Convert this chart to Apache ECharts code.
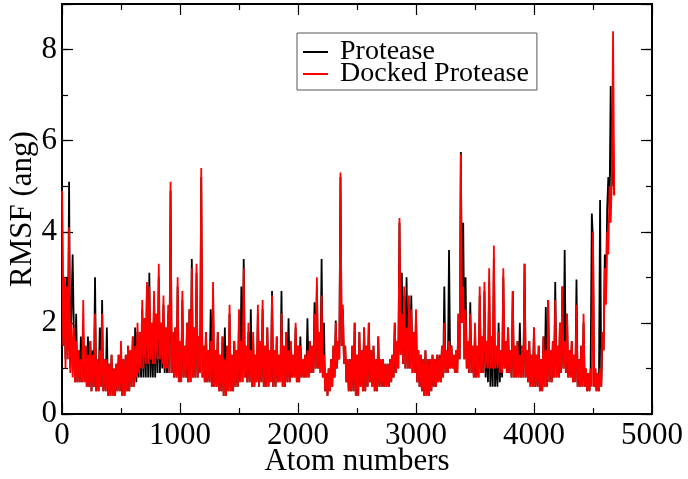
<!DOCTYPE html>
<html><head><meta charset="utf-8">
<script src="https://cdn.jsdelivr.net/npm/echarts@6/dist/echarts.min.js"></script>
<style>html,body{margin:0;padding:0;background:#fff}#c{width:688px;height:479px}</style>
</head><body><div id="c"></div>
<script>
const ATOM_STEP = 10;
const seriesNames = ['Protease', 'Docked Protease'];
const xTicks = [0, 1000, 2000, 3000, 4000, 5000];
const yTicks = [0, 2, 4, 6, 8];
// RMSF, one value every 10 atoms
const protease = [
5.3,1.5,3.0,1.2,3.0,1.4,5.1,1.0,2.2,3.5,
1.9,0.7,2.2,0.7,1.4,0.7,1.7,0.7,1.8,0.7,
1.5,0.6,1.7,0.6,1.6,0.5,1.4,0.6,3.0,0.5,
1.2,0.5,1.9,0.6,2.5,0.5,1.2,0.5,1.9,0.4,
1.1,0.4,1.3,0.4,1.0,0.4,1.1,0.5,1.3,0.5,
1.4,0.4,1.2,0.4,1.3,0.5,1.5,0.5,1.4,0.6,
1.7,0.6,1.9,0.7,1.8,0.8,1.8,0.8,2.3,0.8,
2.1,0.8,2.8,0.8,3.1,0.8,2.0,0.8,2.5,0.8,
2.2,0.9,3.0,0.9,2.0,1.0,2.4,0.9,1.9,0.9,
2.2,0.9,4.9,0.9,1.8,0.8,1.9,0.8,2.8,0.7,
1.6,0.7,2.5,0.8,1.5,0.8,2.0,0.7,2.3,0.7,
3.4,0.8,1.9,0.8,3.1,0.8,1.7,0.9,5.2,0.8,
1.5,0.7,1.8,0.7,1.4,0.7,2.3,0.6,2.7,0.6,
1.4,0.6,1.8,0.5,1.3,0.5,1.7,0.4,1.9,0.4,
1.5,0.5,2.2,0.5,1.3,0.5,1.6,0.6,1.4,0.6,
2.0,0.7,2.8,0.7,3.4,0.8,1.5,0.7,1.8,0.7,
2.3,0.6,1.6,0.6,1.3,0.7,2.2,0.6,1.6,0.7,
2.3,0.6,1.5,0.6,1.9,0.6,1.4,0.7,2.7,0.6,
1.4,0.6,1.7,0.7,1.3,0.7,2.7,0.6,1.5,0.6,
1.8,0.7,2.1,0.7,1.5,0.8,1.3,0.8,1.9,0.7,
1.5,0.7,1.7,0.8,1.2,0.8,1.3,0.8,2.1,0.8,
1.6,0.9,1.5,0.9,2.45,1.0,2.8,1.0,1.8,0.9,
3.4,0.8,2.0,0.5,0.9,0.4,1.0,0.5,1.2,0.6,
1.5,0.8,2.05,1.0,1.6,1.2,5.2,1.5,2.3,1.1,
1.5,0.7,1.2,0.5,1.2,0.5,1.5,0.5,2.0,0.4,
1.3,0.4,1.8,0.6,1.4,0.5,1.9,0.5,1.5,0.6,
2.0,0.7,1.4,0.6,1.5,0.5,1.2,0.5,1.7,0.6,
1.2,0.6,1.2,0.6,1.1,0.6,1.1,0.6,1.2,0.7,
1.3,0.8,2.0,0.9,1.6,1.0,4.2,1.3,3.1,1.1,
2.6,1.0,3.0,1.0,2.4,1.0,2.6,0.9,1.8,0.9,
2.2,0.7,1.4,0.6,1.3,0.5,1.2,0.4,1.4,0.4,
1.2,0.4,1.2,0.5,1.3,0.6,1.2,0.6,1.3,0.7,
1.3,0.7,1.5,0.8,2.8,0.9,1.4,0.9,3.6,1.0,
1.5,1.0,1.3,0.9,1.4,0.9,2.2,1.2,5.75,2.0,
4.2,1.2,3.0,1.0,1.6,0.9,2.45,0.9,1.5,0.8,
1.8,0.8,1.5,0.8,2.6,0.9,1.7,0.9,2.7,0.8,
1.6,0.7,2.9,0.6,1.7,0.6,3.4,0.6,1.4,0.6,
2.0,0.7,1.4,0.8,3.0,1.0,1.6,0.9,1.9,0.9,
1.4,0.8,2.7,0.8,1.5,0.8,1.6,0.8,2.0,0.8,
1.5,0.8,3.3,0.8,1.4,0.7,1.6,0.6,1.3,0.6,
1.9,0.6,1.3,0.6,1.5,0.5,1.2,0.5,1.7,0.6,
2.35,0.6,2.5,0.7,1.4,0.7,1.6,0.8,2.9,0.8,
1.5,0.8,2.0,0.9,2.8,1.0,3.6,0.9,2.2,0.8,
1.4,0.8,1.6,0.7,1.3,0.7,2.95,0.6,1.2,0.6,
1.5,0.6,2.0,0.6,1.0,0.5,0.9,0.5,1.0,4.4,
3.8,0.6,1.0,0.5,0.9,0.5,4.7,0.6,1.6,1.4,
3.5,2.6,4.5,5.2,4.5,7.2,5.0,6.0,4.8
];
const dockedProtease = [
4.9,1.5,3.0,1.0,2.8,1.2,4.1,0.9,2.0,0.8,
1.9,0.7,1.6,0.7,1.4,0.7,1.2,0.7,2.5,0.7,
1.5,0.6,1.3,0.6,1.6,0.5,1.3,0.6,2.2,0.5,
1.2,0.5,1.4,0.6,2.2,0.5,1.2,0.5,1.2,0.4,
1.1,0.4,1.3,0.4,1.0,0.4,1.1,0.5,1.3,0.5,
1.6,0.4,1.2,0.4,1.3,0.5,1.5,0.5,1.4,0.6,
1.7,0.6,1.5,0.8,2.0,0.9,1.8,1.0,2.5,1.0,
2.1,1.1,2.9,1.1,2.8,1.2,2.0,1.1,2.7,1.1,
2.2,1.2,3.3,1.2,2.0,1.1,2.6,1.0,1.9,1.0,
2.4,0.9,5.1,0.9,1.8,0.8,1.9,0.8,3.0,0.7,
1.6,0.7,2.7,0.8,1.5,0.8,2.0,0.7,2.3,0.7,
3.2,0.8,1.9,0.8,3.3,0.8,1.7,0.9,5.4,0.8,
1.5,0.7,1.8,0.7,1.4,0.7,1.6,0.6,2.9,0.6,
1.4,0.6,1.8,0.5,1.3,0.5,1.7,0.4,1.2,0.4,
1.5,0.5,2.4,0.5,1.3,0.5,1.6,0.6,1.4,0.6,
2.3,0.7,1.6,0.7,3.2,0.8,1.5,0.7,2.0,0.7,
1.4,0.6,1.8,0.6,1.3,0.7,2.4,0.6,1.6,0.7,
2.5,0.6,1.5,0.6,1.9,0.6,1.4,0.7,2.6,0.6,
1.4,0.6,1.7,0.7,1.3,0.7,2.2,0.6,1.5,0.6,
1.8,0.7,1.4,0.7,1.6,0.8,1.3,0.8,2.0,0.7,
1.5,0.7,1.5,0.8,1.2,0.8,1.3,0.8,1.4,0.8,
1.6,0.9,1.5,0.9,2.2,1.0,3.0,1.0,1.8,0.9,
2.6,0.8,1.3,0.5,0.9,0.4,1.0,0.5,1.2,0.6,
1.5,0.8,2.0,1.0,1.6,1.2,5.3,1.5,2.4,1.1,
1.5,0.7,1.2,0.5,1.2,0.5,1.5,0.5,2.0,0.4,
1.3,0.4,1.8,0.6,1.4,0.5,1.9,0.5,1.5,0.6,
2.0,0.7,1.4,0.6,1.5,0.5,1.2,0.5,1.7,0.6,
1.2,0.6,1.2,0.6,1.1,0.6,1.1,0.6,1.2,0.7,
1.3,0.8,2.0,0.9,1.6,1.0,4.3,1.3,2.2,1.1,
2.8,1.0,1.9,1.0,2.6,1.0,2.3,0.9,1.8,0.9,
2.3,0.7,1.4,0.6,1.3,0.5,1.2,0.4,1.4,0.4,
1.2,0.4,1.2,0.5,1.3,0.6,1.2,0.6,1.3,0.7,
1.3,0.7,1.5,0.8,2.0,0.9,1.4,0.9,1.6,1.0,
1.5,1.0,1.3,0.9,1.4,0.9,2.2,1.2,5.7,2.0,
2.8,1.2,2.3,1.0,1.6,0.9,2.2,0.9,1.5,0.8,
2.0,0.8,1.5,0.8,2.8,0.9,1.7,0.9,2.9,1.0,
1.6,1.0,3.2,1.0,1.7,1.0,3.7,1.0,1.5,1.0,
1.8,0.9,1.4,0.9,3.2,1.0,1.6,0.9,1.9,0.9,
1.4,0.8,2.7,0.8,1.5,0.8,1.6,0.8,1.3,0.8,
1.5,0.8,3.3,0.8,1.4,0.7,1.6,0.6,1.3,0.6,
1.9,0.6,1.3,0.6,1.5,0.5,1.2,0.5,1.7,0.6,
1.4,0.6,2.5,0.7,1.4,0.7,1.6,0.8,2.5,0.8,
1.5,0.8,2.0,0.9,2.8,1.0,1.6,0.9,2.2,0.8,
1.4,0.8,1.6,0.7,1.3,0.7,2.4,0.6,1.2,0.6,
1.5,0.6,2.2,0.6,1.0,0.5,0.9,0.5,1.0,0.6,
4.0,0.6,1.0,0.5,0.9,0.5,1.0,0.6,1.8,1.4,
3.2,2.4,4.0,3.5,5.0,4.2,5.2,8.4,4.8
];
const atoms = protease.map((_, i) => i * ATOM_STEP);

const FONT = 'Liberation Serif';
const chart = echarts.init(document.getElementById('c'), null, {renderer: 'canvas'});
const frameLine = {show: true, onZero: false, lineStyle: {color: '#000', width: 2}};
function yAx(pos, interval, len, labels, name) {
  return {
    type: 'value', position: pos, min: 0, max: 9, interval: interval,
    axisLine: frameLine,
    axisTick: {show: true, inside: true, length: len, lineStyle: {color: '#000', width: 1.2}},
    axisLabel: labels ? {
      show: true, fontFamily: FONT, fontSize: 31, color: '#000', margin: 5,
      formatter: v => (yTicks.indexOf(v) >= 0 ? String(v) : '')
    } : {show: false},
    splitLine: {show: false},
    name: name || '', nameLocation: 'middle', nameGap: 24, nameMoveOverlap: false,
    nameTextStyle: {fontFamily: FONT, fontSize: 31, color: '#000'}
  };
}
function xAx(pos, labels, name) {
  return {
    type: 'value', position: pos, min: 0, max: 5000, interval: 1000,
    axisLine: frameLine,
    axisTick: {show: true, inside: true, length: 11, lineStyle: {color: '#000', width: 1.2}},
    minorTick: {show: true, splitNumber: 2, length: 6, lineStyle: {color: '#000', width: 1.2}},
    axisLabel: labels ? {
      show: true, fontFamily: FONT, fontSize: 31, color: '#000', margin: 6,
      formatter: v => (xTicks.indexOf(v) >= 0 ? String(v) : '')
    } : {show: false},
    splitLine: {show: false}, minorSplitLine: {show: false},
    name: name || '', nameLocation: 'middle', nameGap: 32, nameMoveOverlap: false,
    nameTextStyle: {fontFamily: FONT, fontSize: 31, color: '#000'}
  };
}
chart.setOption({
  animation: false,
  backgroundColor: '#fff',
  grid: {left: 62, right: 36, top: 4, bottom: 65, containLabel: false, outerBoundsMode: 'none'},
  xAxis: [xAx('bottom', true, 'Atom numbers'), xAx('top', false)],
  yAxis: [
    yAx('left', 1, 6, true, 'RMSF (ang)'),
    yAx('left', 2, 11, false),
    yAx('right', 1, 6, false),
    yAx('right', 2, 11, false)
  ],
  legend: {
    data: seriesNames, orient: 'vertical', left: 297, top: 33,
    padding: [5, 8, 2, 6], itemGap: -6, itemWidth: 25, itemHeight: 2, icon: 'rect',
    borderColor: '#555', borderWidth: 1, backgroundColor: '#fff',
    textStyle: {fontFamily: FONT, fontSize: 28, color: '#000', lineHeight: 23, padding: [0, 0, 0, 7]}
  },
  series: [
    {name: seriesNames[0], type: 'line', showSymbol: false, symbol: 'none',
     color: '#000', lineStyle: {color: '#000', width: 1.8},
     data: atoms.map((a, i) => [a, protease[i]])},
    {name: seriesNames[1], type: 'line', showSymbol: false, symbol: 'none',
     color: '#ff0000', lineStyle: {color: '#ff0000', width: 1.8},
     data: atoms.map((a, i) => [a, dockedProtease[i]])}
  ]
});
</script></body></html>
